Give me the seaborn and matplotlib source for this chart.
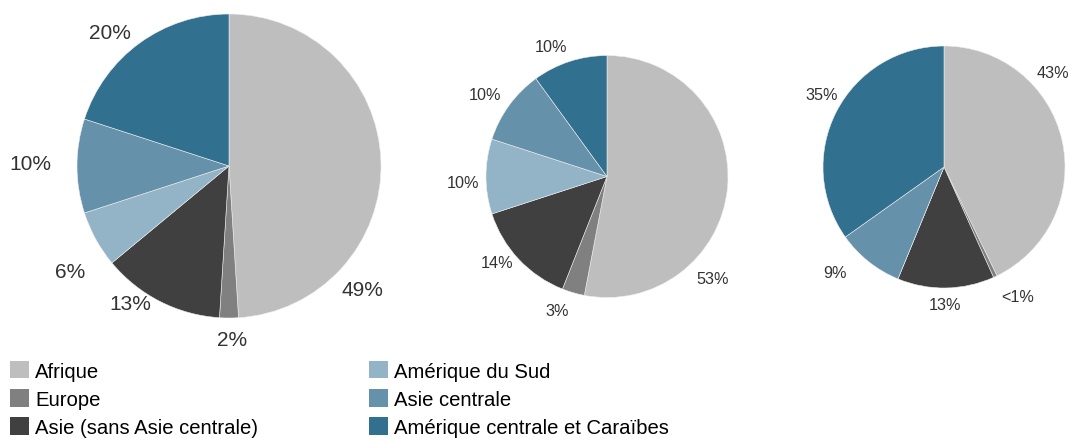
import matplotlib
matplotlib.use("Agg")
import matplotlib.pyplot as plt
import seaborn as sns

sns.set_theme(style="white")
plt.rcParams['font.family'] = ['Liberation Sans', 'DejaVu Sans']

# ---- data ----
categories = ["Afrique", "Europe", "Asie (sans Asie centrale)",
              "Amérique du Sud", "Asie centrale", "Amérique centrale et Caraïbes"]
pie1_values = [49, 2, 13, 6, 10, 20]
pie2_values = [53, 3, 14, 10, 10, 10]
pie3_values = [43, 0.5, 13, 0, 9, 35]
pie1_labels = ["49%", "2%", "13%", "6%", "10%", "20%"]
pie2_labels = ["53%", "3%", "14%", "10%", "10%", "10%"]
pie3_labels = ["43%", "<1%", "13%", "", "9%", "35%"]

colors = ["#BEBEBE", "#808080", "#404040", "#93B3C6", "#6591AA", "#31718F"]

# ---- layout (pixels) ----
W, H = 1073, 439
fig = plt.figure(figsize=(W / 100, H / 100), dpi=100)
ax = fig.add_axes([0, 0, 1, 1])
ax.set_xlim(0, W)
ax.set_ylim(0, H)
ax.set_aspect("equal")
ax.axis("off")

def fy(y):
    return H - y

pies = [
    dict(values=pie1_values, labels=pie1_labels, center=(229, 167), r=152, fs=15,
         lpos=[(362, 290), (232, 340), (130, 305), (70, 273), (30, 165), (110, 33)]),
    dict(values=pie2_values, labels=pie2_labels, center=(607, 177.5), r=121, fs=11.7,
         lpos=[(713, 280), (557, 312), (497, 263), (463, 184), (485, 96), (551, 47)]),
    dict(values=pie3_values, labels=pie3_labels, center=(944, 168), r=121, fs=11.7,
         lpos=[(1053, 73), (1018, 297), (945, 305), (0, 0), (835, 273), (822, 95)]),
]

handles = None
for p in pies:
    cx, cy = p["center"]
    wedges, _ = ax.pie(p["values"], colors=colors, startangle=90, counterclock=False,
                       center=(cx, fy(cy)), radius=p["r"], normalize=True,
                       wedgeprops=dict(edgecolor="#eeeeee", linewidth=0.4))
    if handles is None:
        handles = wedges
    for lab, (lx, ly) in zip(p["labels"], p["lpos"]):
        if lab:
            ax.text(lx, fy(ly), lab, ha="center", va="center", fontsize=p["fs"], color="#333333")

ax.set_xlim(0, W)
ax.set_ylim(0, H)

fs_leg = 14.6
leg = fig.legend(handles, categories, ncol=2, loc="upper left",
                 bbox_to_anchor=(10 / W, 1 - 362 / H), frameon=False,
                 fontsize=fs_leg, handlelength=0.95, handleheight=0.95,
                 handletextpad=0.3, labelspacing=0.42, columnspacing=5.45,
                 borderpad=0, borderaxespad=0)
for t in leg.get_texts():
    t.set_color("black")
for h in leg.legend_handles:
    h.set_linewidth(0)

fig.savefig("out.png", dpi=100)
